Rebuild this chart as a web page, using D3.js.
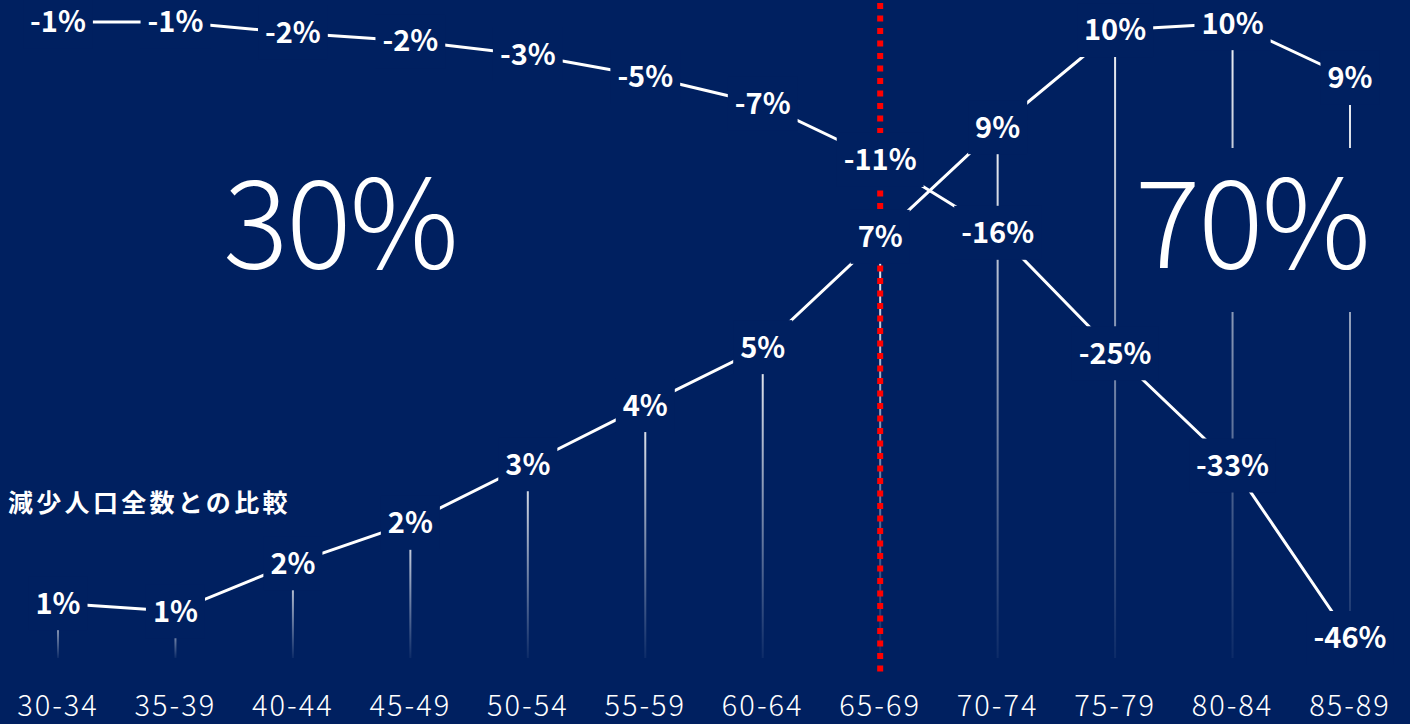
<!DOCTYPE html>
<html>
<head>
<meta charset="utf-8">
<script src="https://cdn.jsdelivr.net/npm/d3@7"></script>
<style>
  html, body { margin: 0; padding: 0; background: #002060; }
  svg { display: block; }
  text { font-family: "Noto Sans CJK JP", "Noto Sans", sans-serif; fill: #fff; }
</style>
</head>
<body>
<div class="mainContainer"></div>
<script>
// age groups
const categories = ['30-34', '35-39', '40-44', '45-49', '50-54', '55-59',
                    '60-64', '65-69', '70-74', '75-79', '80-84', '85-89'];
// share of total decrease (%)
const shareValues = [0.88, 0.75, 1.52, 2.17, 3.11, 4.06, 4.99, 6.76, 8.52, 10.08, 10.19, 9.31];
// rate of change (%)
const changeValues = [-1.0, -1.0, -1.8, -2.39, -3.4, -4.95, -6.99, -11.08, -16.4, -25.2, -33.4, -46.0];
const splitAt = '65-69';
const groupShares = [30, 70];
const subtitle = '減少人口全数との比較';

const W = 1410, H = 724;
const baseY = 658;

const svg = d3.select('.mainContainer')
    .append('svg')
    .attr('width', W)
    .attr('height', H);

svg.append('rect')
    .attr('width', W)
    .attr('height', H)
    .attr('fill', '#002060');

const defs = svg.append('defs');
const grad = defs.append('linearGradient')
    .attr('id', 'fade')
    .attr('x1', 0).attr('y1', 0)
    .attr('x2', 0).attr('y2', 1);
grad.append('stop').attr('offset', '0%').attr('stop-color', '#fff').attr('stop-opacity', 0.95);
grad.append('stop').attr('offset', '100%').attr('stop-color', '#fff').attr('stop-opacity', 0.05);

const x = d3.scalePoint()
    .domain(categories)
    .range([58, 1350]);

const yShare = d3.scaleLinear()
    .domain([0, 10])
    .range([baseY, 35]);

const yChange = d3.scaleLinear()
    .domain([0, -46])
    .range([8.3, 638]);

const share = categories.map((c, i) => ({cat: c, v: shareValues[i]}));
const change = categories.map((c, i) => ({cat: c, v: changeValues[i]}));

// faded stems
svg.append('g').selectAll('rect')
    .data(share)
    .enter()
    .append('rect')
    .attr('x', d => x(d.cat) - 1)
    .attr('y', d => yShare(d.v))
    .attr('width', 2)
    .attr('height', d => baseY - yShare(d.v))
    .attr('fill', 'url(#fade)');

// red divider
svg.append('line')
    .attr('x1', x(splitAt)).attr('x2', x(splitAt))
    .attr('y1', 3).attr('y2', 672)
    .attr('stroke', '#ff0000')
    .attr('stroke-width', 6)
    .attr('stroke-dasharray', '6,6.5');

// big shares, boxed so the stems break around them
const big = svg.selectAll('.big')
    .data(groupShares)
    .enter()
    .append('g')
    .attr('class', 'big')
    .attr('transform', (d, i) => `translate(${i === 0 ? 340 : 1252},268)`);
big.append('rect')
    .attr('x', -125)
    .attr('y', -120)
    .attr('width', 250)
    .attr('height', 164)
    .attr('fill', '#002060');
big.append('text')
    .attr('text-anchor', 'middle')
    .attr('font-size', 122)
    .attr('font-weight', 300)
    .attr('letter-spacing', -2)
    .text(d => d + '%');

svg.append('text')
    .attr('x', 8)
    .attr('y', 512)
    .attr('font-size', 25)
    .attr('font-weight', 700)
    .attr('letter-spacing', 3.3)
    .text(subtitle);

const line = y => d3.line()
    .x(d => x(d.cat))
    .y(d => y(d.v));

svg.append('path')
    .datum(share)
    .attr('d', line(yShare))
    .attr('fill', 'none')
    .attr('stroke', '#fff')
    .attr('stroke-width', 3);

svg.append('path')
    .datum(change)
    .attr('d', line(yChange))
    .attr('fill', 'none')
    .attr('stroke', '#fff')
    .attr('stroke-width', 3);

const addLabels = (data, y) => {
    const g = svg.append('g').selectAll('g')
        .data(data)
        .enter()
        .append('g')
        .attr('transform', d => `translate(${x(d.cat)},${y(d.v)})`);
    g.append('rect').attr('fill', '#002060');
    const t = g.append('text')
        .attr('text-anchor', 'middle')
        .attr('dy', '0.36em')
        .attr('font-size', 29)
        .attr('font-weight', 700)
        .text(d => Math.round(d.v) + '%');
    t.each(function() {
        const w = this.getComputedTextLength();
        d3.select(this.parentNode).select('rect')
            .attr('x', -w / 2 - 7)
            .attr('y', -27)
            .attr('width', w + 14)
            .attr('height', 54);
    });
};
addLabels(share, yShare);
addLabels(change, yChange);

// x axis labels
svg.append('g').selectAll('text')
    .data(categories)
    .enter()
    .append('text')
    .attr('x', d => x(d))
    .attr('y', 716)
    .attr('text-anchor', 'middle')
    .attr('font-size', 29)
    .attr('font-weight', 300)
    .attr('letter-spacing', 2)
    .text(d => d);
</script>
</body>
</html>
